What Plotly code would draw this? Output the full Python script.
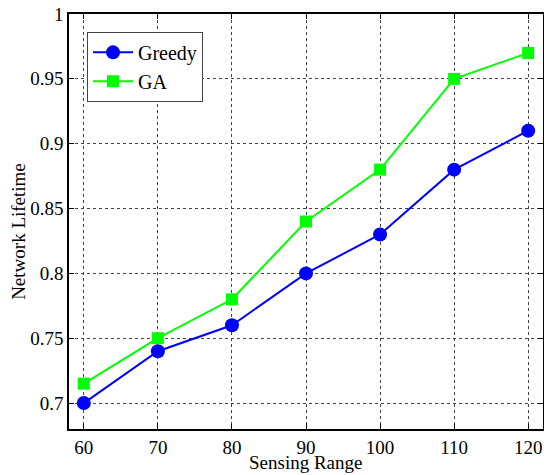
import plotly.graph_objects as go

sensing_range = [60, 70, 80, 90, 100, 110, 120]
greedy = [0.70, 0.74, 0.76, 0.80, 0.83, 0.88, 0.91]
ga = [0.715, 0.75, 0.78, 0.84, 0.88, 0.95, 0.97]
x_ticks = [60, 70, 80, 90, 100, 110, 120]
y_ticks = [0.7, 0.75, 0.8, 0.85, 0.9, 0.95, 1]
y_tick_labels = ["0.7", "0.75", "0.8", "0.85", "0.9", "0.95", "1"]
x_title = "Sensing Range"
y_title = "Network Lifetime"

fig = go.Figure()
fig.add_trace(go.Scatter(x=sensing_range, y=greedy, mode="lines+markers", name="Greedy",
                         line=dict(color="#0000ff", width=2),
                         marker=dict(symbol="circle", size=14, color="#0000ff")))
fig.add_trace(go.Scatter(x=sensing_range, y=ga, mode="lines+markers", name="GA",
                         line=dict(color="#00ff00", width=2),
                         marker=dict(symbol="square", size=12, color="#00ff00")))

font = dict(family="Liberation Serif", size=19, color="black")
axis_common = dict(showline=True, linecolor="black", linewidth=1.5, mirror="ticks",
                   ticks="inside", ticklen=5, tickcolor="black",
                   showgrid=True, gridcolor="#444", gridwidth=1, griddash="3px,3px",
                   zeroline=False, tickfont=font, automargin=False)
fig.update_xaxes(range=[58, 122], tickvals=x_ticks, ticklabelstandoff=0, **axis_common)
fig.update_yaxes(range=[0.68, 1], tickvals=y_ticks, ticktext=y_tick_labels, **axis_common)

fig.add_annotation(text=x_title, xref="paper", yref="paper", x=0.498, y=-0.081,
                   xanchor="center", yanchor="middle", showarrow=False, font=font)
fig.add_annotation(text=y_title, xref="paper", yref="paper", x=-0.108, y=0.477,
                   xanchor="center", yanchor="middle", textangle=-90,
                   showarrow=False, font=font)

fig.update_layout(width=544, height=475, margin=dict(l=69, r=1, t=14, b=46),
                  plot_bgcolor="white", paper_bgcolor="white", font=font,
                  legend=dict(x=0.038, y=0.957, xanchor="left", yanchor="top",
                              bordercolor="#444", borderwidth=1, bgcolor="white",
                              font=dict(family="Liberation Serif", size=20, color="black"),
                              itemwidth=40, tracegroupgap=0))
fig.write_html("out.html", config={"displayModeBar": False},
               post_script="document.body.style.margin='0';document.body.style.overflow='hidden';")
